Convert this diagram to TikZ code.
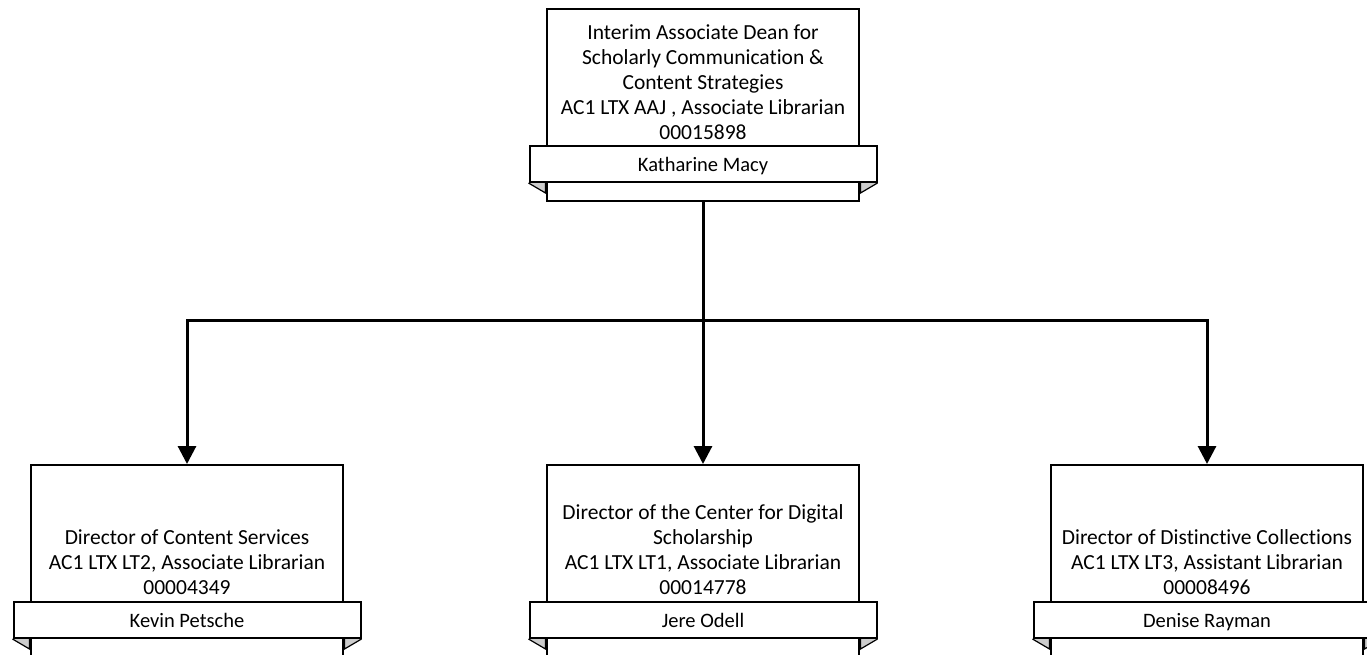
\documentclass[tikz,border=0pt]{standalone}
\usepackage{fontspec}
\setmainfont{Carlito}[Ligatures=NoCommon]
\usetikzlibrary{arrows.meta}
\tikzset{%
    posbox/.style={
		draw, line width=2pt, fill=white,
		minimum width=312pt, inner sep=0pt
	},
    nameband/.style={
		draw, line width=2pt, fill=white,
		minimum width=347pt, minimum height=36pt, inner sep=0pt,
		text height=16pt, text depth=2pt,
		font=\fontsize{20.5}{24}\selectfont
	},
    titletext/.style={align=center, inner sep=0pt, anchor=south, font=\fontsize{21.5}{25}\selectfont},
    bandfold/.style={draw, line width=1.2pt, fill=gray!40},
    reportline/.style={line width=3pt, -{Triangle[width=18pt,length=18pt]}}
}

\begin{document}
\begin{tikzpicture}[x=1pt, y=-1pt]
		% page is the size of the chart, lower boxes run off it
		\useasboundingbox (0,0) rectangle (1367,654);
		\clip (0,0) rectangle (1367,654);

		% dean
		\node[posbox, minimum height=192pt, anchor=north] (dean) at (703,8) {};
		\node[nameband] (deanname) at (703,164) {Katharine Macy};
		\draw[bandfold] (deanname.south west) -- ++(17,10) -- ++(0,-10);
		\draw[bandfold] (deanname.south east) -- ++(-17,10) -- ++(0,-10);
		\node[titletext] (deantitle) at (703,140) {Interim Associate Dean for\\Scholarly Communication \&\\Content Strategies\\AC1 LTX AAJ , Associate Librarian\\00015898};

		% directors
		\node[posbox, minimum height=220pt, anchor=north] (content) at (187,464) {};
		\node[nameband] (contentname) at (187,620) {Kevin Petsche};
		\draw[bandfold] (contentname.south west) -- ++(17,10) -- ++(0,-10);
		\draw[bandfold] (contentname.south east) -- ++(-17,10) -- ++(0,-10);
		\node[titletext] (contenttitle) at (187,595) {Director of Content Services\\AC1 LTX LT2, Associate Librarian\\00004349};

		\node[posbox, minimum height=220pt, anchor=north] (digital) at (703,464) {};
		\node[nameband] (digitalname) at (703,620) {Jere Odell};
		\draw[bandfold] (digitalname.south west) -- ++(17,10) -- ++(0,-10);
		\draw[bandfold] (digitalname.south east) -- ++(-17,10) -- ++(0,-10);
		\node[titletext] (digitaltitle) at (703,595) {Director of the Center for Digital\\Scholarship\\AC1 LTX LT1, Associate Librarian\\00014778};

		\node[posbox, minimum height=220pt, anchor=north] (collections) at (1207,464) {};
		\node[nameband] (collectionsname) at (1207,620) {Denise Rayman};
		\draw[bandfold] (collectionsname.south west) -- ++(17,10) -- ++(0,-10);
		\draw[bandfold] (collectionsname.south east) -- ++(-17,10) -- ++(0,-10);
		\node[titletext] (collectionstitle) at (1207,595) {Director of Distinctive Collections\\AC1 LTX LT3, Assistant Librarian\\00008496};

		% reporting lines
		\coordinate (bus) at (703,320);
		\draw[line width=3pt] (dean.south) -- (bus);
		\draw[reportline] (bus) -| (content.north);
		\draw[reportline] (bus) -- (digital.north);
		\draw[reportline] (bus) -| (collections.north);
	\end{tikzpicture}
\end{document}
